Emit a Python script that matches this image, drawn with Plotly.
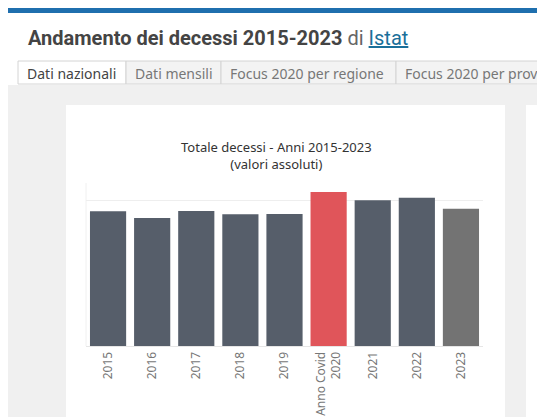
import plotly.graph_objects as go

years = ["2015", "2016", "2017", "2018", "2019", "Anno Covid<br>2020", "2021", "2022", "2023"]
deaths = [647571, 615261, 649061, 633133, 634417, 740317, 701346, 713499, 660600]
colors = ["#565e6a"] * 5 + ["#e0555a"] + ["#565e6a"] * 2 + ["#737373"]
tabs = ["Dati nazionali", "Dati mensili", "Focus 2020 per regione", "Focus 2020 per provincia"]
tab_edges = [10, 118, 213, 388, 560]

W, H = 545, 417
def px(x): return x / W
def py(y): return 1 - y / H

fig = go.Figure()
fig.add_trace(go.Bar(x=years, y=deaths, marker=dict(color=colors, line=dict(width=0)),
                     hoverinfo="x+y"))

P = dict(xref="paper", yref="paper", layer="below")
shapes = [
    dict(type="rect", x0=0, x1=1, y0=py(5), y1=1, fillcolor="#1f6fae", line_width=0, **P),
    dict(type="rect", x0=0, x1=1, y0=0, y1=py(77), fillcolor="#f0f0f0", line_width=0, **P),
    dict(type="rect", x0=px(58), x1=px(497), y0=0, y1=py(97), fillcolor="white", line_width=0, **P),
    dict(type="rect", x0=px(518), x1=1, y0=0, y1=py(97), fillcolor="white", line_width=0, **P),
    dict(type="line", x0=px(78), x1=px(78), y0=py(175), y1=py(338),
         line=dict(color="#f0f0f0", width=1), **P),
]
ann = []
for i, t in enumerate(tabs):
    x0, x1 = tab_edges[i], tab_edges[i + 1]
    shapes.append(dict(type="rect", x0=px(x0), x1=px(x1), y0=py(76), y1=py(53),
                       fillcolor="white" if i == 0 else "#f3f3f3",
                       line=dict(color="#d4d4d4", width=1), **P))
    ann.append(dict(text=t, x=px(x0 + 7), y=py(65), xref="paper", yref="paper",
                    xanchor="left", yanchor="middle", showarrow=False,
                    font=dict(size=14, color="#444" if i == 0 else "#777")))

ann += [
    dict(text="<b>Andamento dei decessi 2015-2023</b> <span style='color:#666'>di</span> "
              "<span style='color:#1a6f9a'><u>Istat</u></span>",
         x=px(18), y=py(30), xanchor="left", yanchor="middle", showarrow=False,
         font=dict(size=20, color="#444", family="Roboto")),
    dict(text="Totale decessi - Anni 2015-2023<br>(valori assoluti)", x=px(268), y=py(147),
         xanchor="center", yanchor="middle", showarrow=False,
         font=dict(size=13, color="#333")),
    dict(text="9", x=px(541), y=py(205), showarrow=False, font=dict(size=10, color="#888")),
    dict(text="4", x=px(541), y=py(408), showarrow=False, font=dict(size=10, color="#888")),
]
for a in ann:
    a["xref"] = "paper"
    a["yref"] = "paper"

fig.update_layout(
    width=W, height=H, margin=dict(l=0, r=0, t=0, b=0),
    paper_bgcolor="white", plot_bgcolor="rgba(0,0,0,0)", showlegend=False,
    font=dict(family="Noto Sans"), bargap=0.18,
    shapes=shapes, annotations=ann,
    xaxis=dict(domain=[px(78), px(475)], tickangle=-90, tickfont=dict(size=12, color="#777"),
               showline=True, linecolor="#e6e6e6", ticks=""),
    yaxis=dict(domain=[py(338), py(180)], range=[0, 760000], tickvals=[700000],
               showticklabels=False, gridcolor="#eeeeee", zeroline=False),
)
fig.write_html("out.html")
